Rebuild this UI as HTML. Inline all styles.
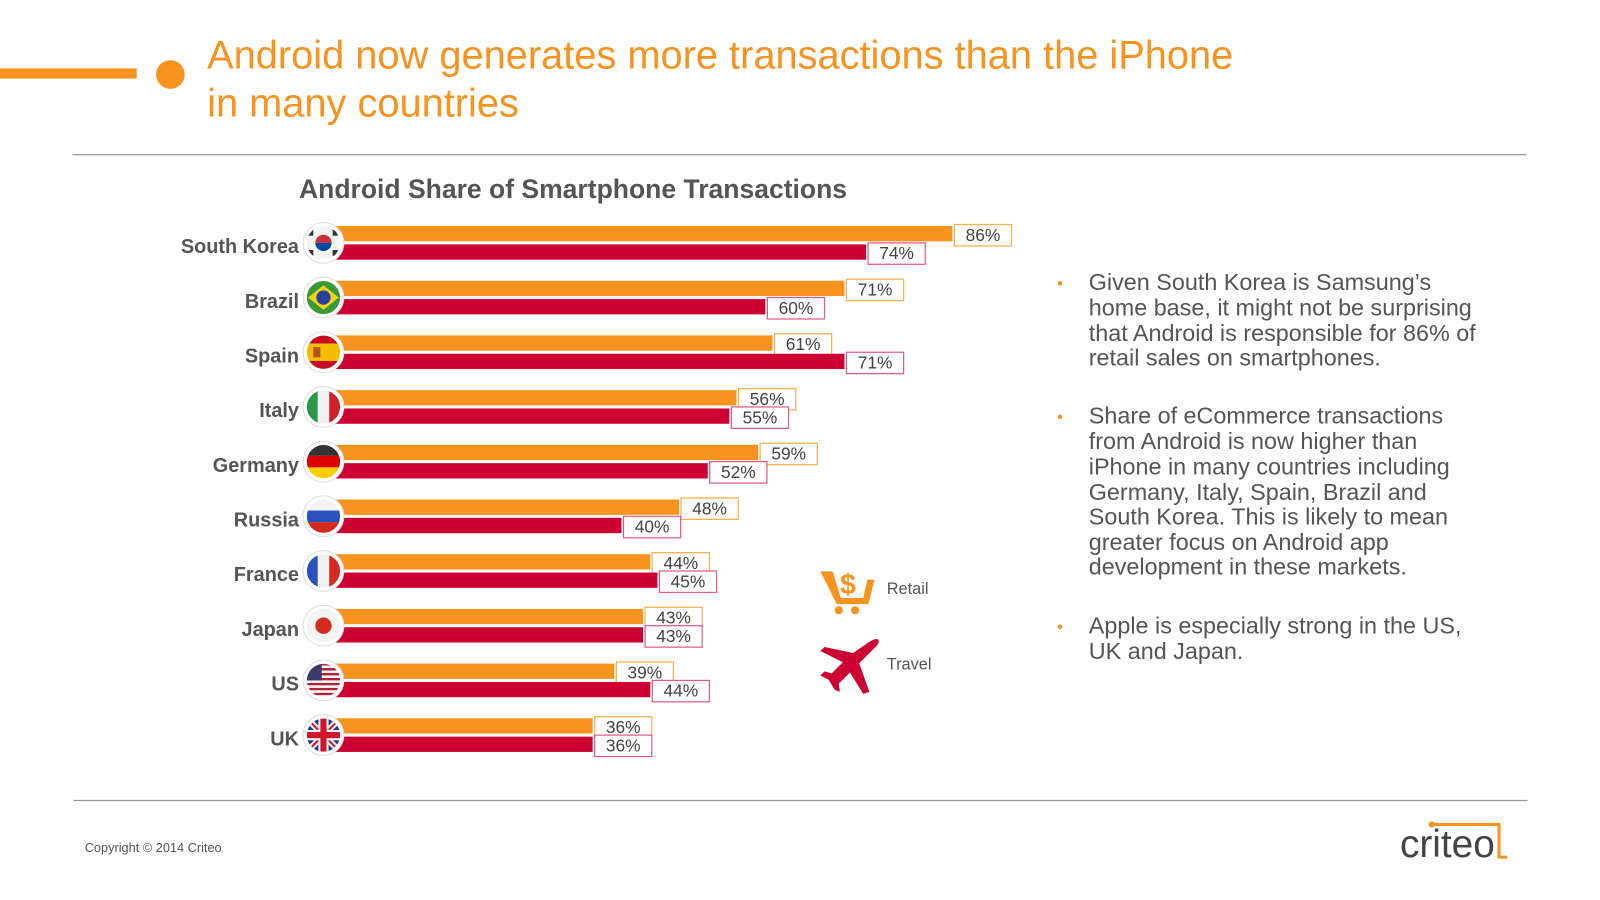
<!DOCTYPE html>
<html><head><meta charset="utf-8"><style>
html,body{margin:0;padding:0;background:#fff;}
body{width:1600px;height:900px;overflow:hidden;position:relative;font-family:"Liberation Sans",Arial,sans-serif;}
svg{position:absolute;left:0;top:0;}
</style></head><body>
<svg width="1600" height="900" viewBox="0 0 1568 882">
  <defs id="defs"></defs>
  <rect x="0" y="67" width="134" height="10" fill="#f7931e"/>
  <circle cx="167" cy="73" r="14" fill="#f7931e"/>
  <text x="203" y="67" font-size="39" fill="#f7931e">Android now generates more transactions than the iPhone</text>
  <text x="203" y="114" font-size="39" fill="#f7931e">in many countries</text>
  <line x1="71" y1="151.5" x2="1496" y2="151.5" stroke="#999" stroke-width="1.2"/>
  <text x="293" y="194" font-size="26" font-weight="bold" fill="#555">Android Share of Smartphone Transactions</text>
  <g id="chart"></g>
  <g>
    <g fill="#f7931e">
      <path d="M804 560 L816 560 L824 586 L846 586 L850 568 L857 568 L851 592 L820 592 Z"/>
      <circle cx="822" cy="598" r="4"/><circle cx="838" cy="598" r="4"/>
      <text x="831" y="582" font-size="28" font-weight="bold" text-anchor="middle">$</text>
    </g>
    <text x="869" y="582" font-size="16" fill="#555">Retail</text>
    <g fill="#cc0033">
      <path d="M856 627 C862 624 863 630 858 634 L842 650 L852 678 L846 680 L833 659 L822 670 L823 678 L818 676 L812 666 L804 662 L808 658 L815 660 L826 649 L804 638 L808 634 L836 640 L852 629 Z"/>
    </g>
    <text x="869" y="656" font-size="16" fill="#555">Travel</text>
  </g>
  <g font-size="22.9" fill="#555">
    <g>
      <text x="1036" y="283" fill="#f7931e" font-size="16">•</text>
      <text x="1067" y="284">Given South Korea is Samsung’s</text>
      <text x="1067" y="309">home base, it might not be surprising</text>
      <text x="1067" y="334">that Android is responsible for 86% of</text>
      <text x="1067" y="358">retail sales on smartphones.</text>
    </g>
    <g>
      <text x="1036" y="414" fill="#f7931e" font-size="16">•</text>
      <text x="1067" y="415">Share of eCommerce transactions</text>
      <text x="1067" y="440">from Android is now higher than</text>
      <text x="1067" y="465">iPhone in many countries including</text>
      <text x="1067" y="490">Germany, Italy, Spain, Brazil and</text>
      <text x="1067" y="514">South Korea. This is likely to mean</text>
      <text x="1067" y="539">greater focus on Android app</text>
      <text x="1067" y="563">development in these markets.</text>
    </g>
    <g>
      <text x="1036" y="620" fill="#f7931e" font-size="16">•</text>
      <text x="1067" y="621">Apple is especially strong in the US,</text>
      <text x="1067" y="646">UK and Japan.</text>
    </g>
  </g>
  <line x1="72" y1="784.5" x2="1497" y2="784.5" stroke="#999" stroke-width="1.2"/>
  <text x="83" y="835" font-size="12.5" fill="#555">Copyright © 2014 Criteo</text>
  <g>
    <text x="1372" y="840" font-size="38" fill="#444">criteo</text>
    <path d="M1403 808 L1469 808 L1469 840 L1477 840" stroke="#f7931e" stroke-width="3" fill="none"/>
    <circle cx="1403" cy="808" r="3" fill="#f7931e"/>
  </g>
</svg>
<script>
const countries = ['South Korea','Brazil','Spain','Italy','Germany','Russia','France','Japan','US','UK'];
const retail = [86,71,61,56,59,48,44,43,39,36];
const travel = [74,60,71,55,52,40,45,43,44,36];
const NS='http://www.w3.org/2000/svg';
const g=document.getElementById('chart');
const defs=document.getElementById('defs');
const x0=327, pxPer=7.05, rowY0=229, rowStep=53.6, barH=15;
const xs=v=>x0+v*pxPer;
const ys=i=>rowY0+i*rowStep;
function mk(tag,attrs,parent){const e=document.createElementNS(NS,tag);for(const k in attrs)e.setAttribute(k,attrs[k]);(parent||g).appendChild(e);return e;}
function drawFlag(i,cx,cy,r){
  const cp=mk('clipPath',{id:'fc'+i},defs);
  mk('circle',{cx:cx,cy:cy,r:r},cp);
  const fg=mk('g',{'clip-path':'url(#fc'+i+')'});
  
  
  const L=cx-r,T=cy-r,D=2*r;
  const hs=(cols,ws)=>{let y=T;cols.forEach((c,k)=>{const h=D*ws[k];mk('rect',{x:L,y:y,width:D,height:h,fill:c},fg);y+=h;});};
  const vs=cols=>{cols.forEach((c,k)=>mk('rect',{x:L+k*D/3,y:T,width:D/3+0.5,height:D,fill:c},fg));};
  switch(i){
    case 0: mk('rect',{x:L,y:T,width:D,height:D,fill:'#f4f4f4'},fg);
      mk('path',{d:`M${cx-8} ${cy} A8 8 0 0 1 ${cx+8} ${cy} Z`,fill:'#cd2e3a'},fg);
      mk('path',{d:`M${cx-8} ${cy} A8 8 0 0 0 ${cx+8} ${cy} Z`,fill:'#0047a0'},fg);
      mk('rect',{x:L+2,y:T+4,width:5,height:6,fill:'#333'},fg);mk('rect',{x:cx+9,y:cy+7,width:5,height:6,fill:'#333'},fg);
      mk('rect',{x:cx+9,y:T+4,width:5,height:6,fill:'#333'},fg);mk('rect',{x:L+2,y:cy+7,width:5,height:6,fill:'#333'},fg);break;
    case 1: mk('rect',{x:L,y:T,width:D,height:D,fill:'#3a9a3a'},fg);
      mk('path',{d:`M${L+2} ${cy} L${cx} ${T+5} L${cx+r-2} ${cy} L${cx} ${cy+r-5} Z`,fill:'#f3d21a'},fg);
      mk('circle',{cx:cx,cy:cy,r:7,fill:'#2a3f9a'},fg);break;
    case 2: hs(['#c60b1e','#f1bf00','#c60b1e'],[0.25,0.5,0.25]);mk('rect',{x:L+7,y:cy-5,width:7,height:10,fill:'#b5512a'},fg);break;
    case 3: vs(['#2a9a4a','#f2f2f2','#cd212a']);break;
    case 4: hs(['#333','#dd0000','#ffce00'],[1/3,1/3,1/3]);break;
    case 5: hs(['#f2f2f2','#2a52be','#d52b1e'],[1/3,1/3,1/3]);break;
    case 6: vs(['#2a52be','#f2f2f2','#d52b1e']);break;
    case 7: mk('rect',{x:L,y:T,width:D,height:D,fill:'#f4f4f4'},fg);mk('circle',{cx:cx,cy:cy,r:8,fill:'#d52b1e'},fg);break;
    case 8: for(let k=0;k<7;k++)mk('rect',{x:L,y:T+k*D/7,width:D,height:D/14,fill:'#b22234'},fg);
      for(let k=0;k<7;k++)mk('rect',{x:L,y:T+k*D/7+D/14,width:D,height:D/14,fill:'#f2f2f2'},fg);
      mk('rect',{x:L,y:T,width:D*0.45,height:D*0.5,fill:'#3c3b6e'},fg);break;
    case 9: mk('rect',{x:L,y:T,width:D,height:D,fill:'#1a3a8a'},fg);
      mk('path',{d:`M${L} ${T} L${L+D} ${T+D} M${L+D} ${T} L${L} ${T+D}`,stroke:'#f2f2f2','stroke-width':6},fg);
      mk('path',{d:`M${L} ${T} L${L+D} ${T+D} M${L+D} ${T} L${L} ${T+D}`,stroke:'#cf142b','stroke-width':2},fg);
      mk('path',{d:`M${cx} ${T} V${T+D} M${L} ${cy} H${L+D}`,stroke:'#f2f2f2','stroke-width':10},fg);
      mk('path',{d:`M${cx} ${T} V${T+D} M${L} ${cy} H${L+D}`,stroke:'#cf142b','stroke-width':6},fg);break;
  }
  mk('circle',{cx:cx,cy:cy,r:r,fill:'none',stroke:'#fff','stroke-width':1.5});
}
countries.forEach((c,i)=>{
  const yo=ys(i), yr=yo+18;
  const lbl=mk('text',{x:293,y:yo+19,'font-size':19.5,'font-weight':'bold',fill:'#555','text-anchor':'end'});
  lbl.textContent=c;
  
  
  [[retail[i],yo,'#f7931e','#f7b04e','retail'],[travel[i],yr,'#cc0033','#e05a8a','travel']].forEach(([v,y,col,bcol,nm])=>{
    const b=mk('rect',{x:x0,y:y-barH/2,width:xs(v)-x0,height:barH,fill:col});
    
    
    const bx=xs(v)+2;
    const box=mk('rect',{x:bx,y:y-9,width:56,height:21,fill:'#fff',stroke:bcol,'stroke-width':1.2});
    
    
    const t=mk('text',{x:bx+28,y:y+7,'font-size':17,fill:'#444','text-anchor':'middle'});
    t.textContent=v+'%';
    
    
  });
  const cy=yo+9;
  const ring=mk('circle',{cx:317,cy:cy,r:20,fill:'#fff',stroke:'#ddd','stroke-width':1});
  
  
  drawFlag(i,317,cy,17);
});
</script>
</body></html>
